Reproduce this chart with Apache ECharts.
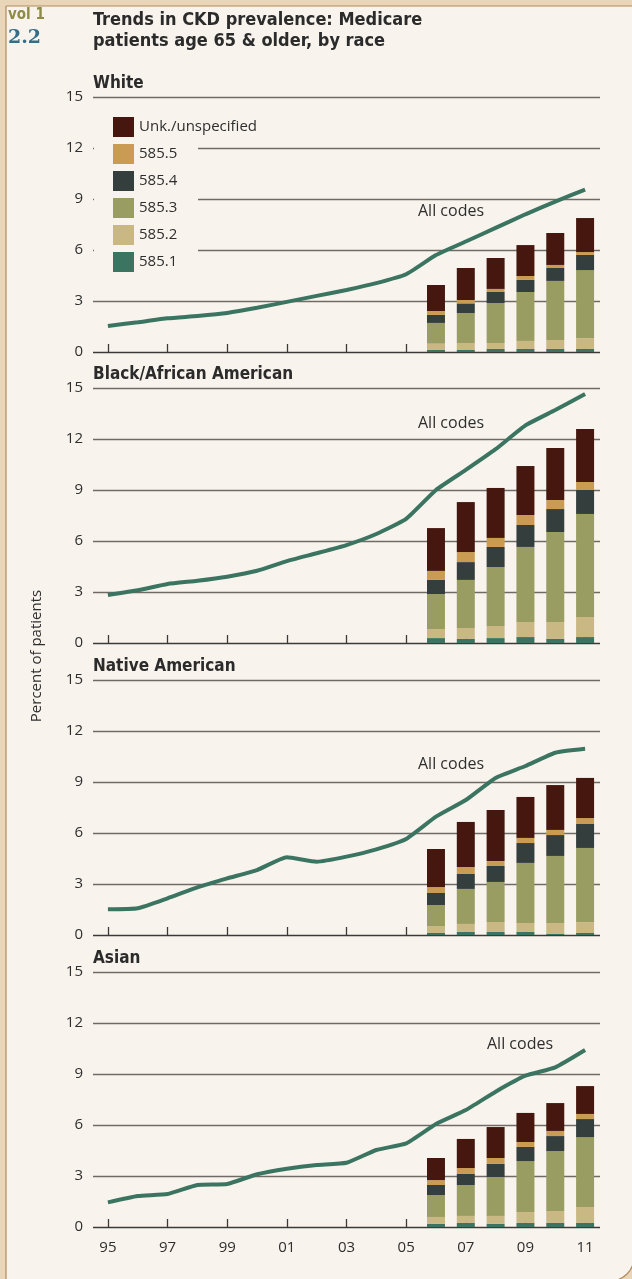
<!DOCTYPE html>
<html>
<head>
<meta charset="utf-8">
<title>CKD prevalence by race</title>
<script src="https://cdn.jsdelivr.net/npm/echarts@6/dist/echarts.min.js"></script>
<style>
  html, body { margin: 0; padding: 0; background: #e9d6b9; }
  #main { width: 632px; height: 1279px; }
</style>
</head>
<body>
<div id="main"></div>
<script>
// years on the x axis, bars only exist from 2006 on
var years = ['95','96','97','98','99','00','01','02','03','04','05','06','07','08','09','10','11'];
var barYears = ['06','07','08','09','10','11'];

var races = ['White', 'Black/African American', 'Native American', 'Asian'];
var codeNames = ['585.1', '585.2', '585.3', '585.4', '585.5', 'Unk./unspecified'];
var codeColors = ['#3b7561', '#c9b784', '#9a9d62', '#343e3c', '#c99b53', '#46170e'];

// "All codes" line, 1995-2011
var whiteAll  = [1.53, 1.75, 1.98, 2.12, 2.3, 2.6, 2.95, 3.3, 3.65, 4.05, 4.57, 5.7, 6.5, 7.3, 8.1, 8.85, 9.55];
var blackAll  = [2.82, 3.1, 3.47, 3.66, 3.9, 4.25, 4.82, 5.28, 5.76, 6.41, 7.3, 9.0, 10.18, 11.4, 12.8, 13.7, 14.65];
var nativeAll = [1.51, 1.57, 2.16, 2.8, 3.33, 3.82, 4.57, 4.31, 4.61, 5.04, 5.65, 6.96, 7.94, 9.24, 9.94, 10.72, 10.95];
var asianAll  = [1.45, 1.82, 1.94, 2.47, 2.53, 3.1, 3.43, 3.65, 3.78, 4.53, 4.92, 6.06, 6.88, 7.96, 8.9, 9.39, 10.41];

// stacked codes 2006-2011: 585.1, 585.2, 585.3, 585.4, 585.5, unk
var white585_1 = [0.14, 0.12, 0.18, 0.18, 0.18, 0.18];
var white585_2 = [0.35, 0.41, 0.35, 0.47, 0.53, 0.64];
var white585_3 = [1.22, 1.76, 2.35, 2.88, 3.47, 4.0];
var white585_4 = [0.47, 0.57, 0.65, 0.71, 0.76, 0.89];
var white585_5 = [0.23, 0.20, 0.18, 0.23, 0.18, 0.17];
var whiteUnk   = [1.53, 1.88, 1.82, 1.82, 1.88, 2.0];

var black585_1 = [0.29, 0.24, 0.29, 0.35, 0.24, 0.35];
var black585_2 = [0.53, 0.64, 0.71, 0.89, 1.0, 1.18];
var black585_3 = [2.06, 2.83, 3.47, 4.41, 5.29, 6.06];
var black585_4 = [0.83, 1.05, 1.18, 1.29, 1.35, 1.41];
var black585_5 = [0.53, 0.59, 0.53, 0.59, 0.53, 0.47];
var blackUnk   = [2.52, 2.94, 2.94, 2.88, 3.06, 3.12];

var native585_1 = [0.12, 0.18, 0.18, 0.18, 0.06, 0.12];
var native585_2 = [0.41, 0.47, 0.58, 0.53, 0.65, 0.64];
var native585_3 = [1.23, 2.06, 2.36, 3.53, 3.94, 4.36];
var native585_4 = [0.71, 0.88, 0.94, 1.17, 1.23, 1.41];
var native585_5 = [0.35, 0.41, 0.29, 0.30, 0.30, 0.35];
var nativeUnk   = [2.24, 2.65, 3.0, 2.41, 2.64, 2.36];

var asian585_1 = [0.18, 0.24, 0.18, 0.24, 0.24, 0.24];
var asian585_2 = [0.41, 0.41, 0.47, 0.64, 0.70, 0.94];
var asian585_3 = [1.29, 1.82, 2.29, 3.0, 3.53, 4.11];
var asian585_4 = [0.59, 0.65, 0.77, 0.83, 0.88, 1.06];
var asian585_5 = [0.29, 0.35, 0.35, 0.29, 0.30, 0.30];
var asianUnk   = [1.30, 1.71, 1.82, 1.71, 1.64, 1.64];

var allCodes = [whiteAll, blackAll, nativeAll, asianAll];
var codeData = [
  [white585_1, white585_2, white585_3, white585_4, white585_5, whiteUnk],
  [black585_1, black585_2, black585_3, black585_4, black585_5, blackUnk],
  [native585_1, native585_2, native585_3, native585_4, native585_5, nativeUnk],
  [asian585_1, asian585_2, asian585_3, asian585_4, asian585_5, asianUnk]
];

var chart = echarts.init(document.getElementById('main'));

var txtFont = '"Open Sans", "Noto Sans", sans-serif';
var headFont = '"Liberation Sans Narrow", "DejaVu Sans Condensed", "Roboto Condensed", sans-serif';
var paper = '#f8f4ed';

// panel layout: top of each grid (value 15) and the "All codes" label spot
var gridTops = [97, 388, 680, 972];
var gridH = 255;
var labelSpots = [[418, 211], [418, 423], [418, 764], [487, 1044]];
var tickLen = 8;

var grids = [], xAxes = [], yAxes = [], series = [];
races.forEach(function (race, i) {
  grids.push({ left: 93, width: 507, top: gridTops[i], height: gridH });
  // inside ticks don't render here, so lift the axis by the tick length
  // and let outward ticks hang down onto the baseline
  xAxes.push({
    type: 'category',
    gridIndex: i,
    data: years,
    boundaryGap: true,
    offset: -tickLen,
    axisLine: { show: false },
    axisTick: { show: true, length: tickLen, interval: 1, alignWithLabel: true,
                lineStyle: { color: '#3c3a38', width: 1.3 } },
    axisLabel: { show: i === 3, interval: 1, color: '#2e2e2e', fontSize: 15,
                 fontFamily: txtFont, margin: 13 + tickLen },
    splitLine: { show: false }
  });
  yAxes.push({
    type: 'value',
    gridIndex: i,
    min: 0, max: 15, interval: 3,
    axisLine: { show: false },
    axisTick: { show: false },
    axisLabel: { color: '#2e2e2e', fontSize: 15, fontFamily: txtFont, margin: 10 },
    // first colour is the zero baseline, darker than the rest
    splitLine: { lineStyle: { color: ['#3c3a38', '#6f6a66', '#6f6a66', '#6f6a66', '#6f6a66', '#6f6a66'], width: 1.3 } }
  });
  codeData[i].forEach(function (vals, k) {
    series.push({
      name: codeNames[k],
      type: 'bar',
      xAxisIndex: i,
      yAxisIndex: i,
      stack: 'codes' + i,
      barWidth: 18,
      itemStyle: { color: codeColors[k] },
      data: vals.map(function (v, j) { return [barYears[j], v]; }),
      z: 2
    });
  });
  series.push({
    name: 'All codes',
    type: 'line',
    xAxisIndex: i,
    yAxisIndex: i,
    data: allCodes[i],
    showSymbol: false,
    smooth: 0.15,
    lineStyle: { color: '#3b7561', width: 4 },
    z: 4
  });
});

var graphics = [
  { type: 'rect', z: -10, shape: { x: 6, y: 6, width: 628, height: 1275, r: [0, 0, 24, 0] },
    style: { fill: paper, stroke: '#b08a5f', lineWidth: 1.2 } },
  // paper patch behind the legend, hides the grid lines there
  { type: 'rect', z: 1, shape: { x: 94, y: 108, width: 104, height: 160 }, style: { fill: paper } },
  { type: 'text', x: 8, y: 8, style: { text: 'vol 1', fill: '#8d8c45', font: 'bold 15px ' + headFont } },
  { type: 'text', x: 8, y: 29, style: { text: '2.2', fill: '#356e88', font: 'bold 19px "DejaVu Serif", serif' } },
  { type: 'text', x: 93, y: 10, style: { text: 'Trends in CKD prevalence: Medicare\npatients age 65 & older, by race',
      fill: '#2b2b2b', font: 'bold 18px ' + headFont, lineHeight: 21 } },
  { type: 'text', x: 37, y: 656, rotation: Math.PI / 2,
    style: { text: 'Percent of patients', fill: '#2e2e2e', font: '15px ' + txtFont,
             textAlign: 'center', textVerticalAlign: 'middle' } }
];
races.forEach(function (race, i) {
  graphics.push({ type: 'text', x: 93, y: gridTops[i] - 22,
    style: { text: race, fill: '#2b2b2b', font: 'bold 17px ' + headFont } });
  graphics.push({ type: 'text', x: labelSpots[i][0], y: labelSpots[i][1],
    style: { text: 'All codes', fill: '#2e2e2e', font: '16px ' + txtFont, textVerticalAlign: 'middle' } });
});

chart.setOption({
  animation: false,
  backgroundColor: '#e9d6b9',
  grid: grids,
  xAxis: xAxes,
  yAxis: yAxes,
  legend: {
    data: codeNames.slice().reverse(),
    orient: 'vertical',
    left: 108, top: 112,
    itemWidth: 21, itemHeight: 20, itemGap: 7,
    icon: 'rect',
    textStyle: { color: '#2e2e2e', fontSize: 15, fontFamily: txtFont },
    z: 5
  },
  graphic: graphics,
  series: series
});
</script>
</body>
</html>
